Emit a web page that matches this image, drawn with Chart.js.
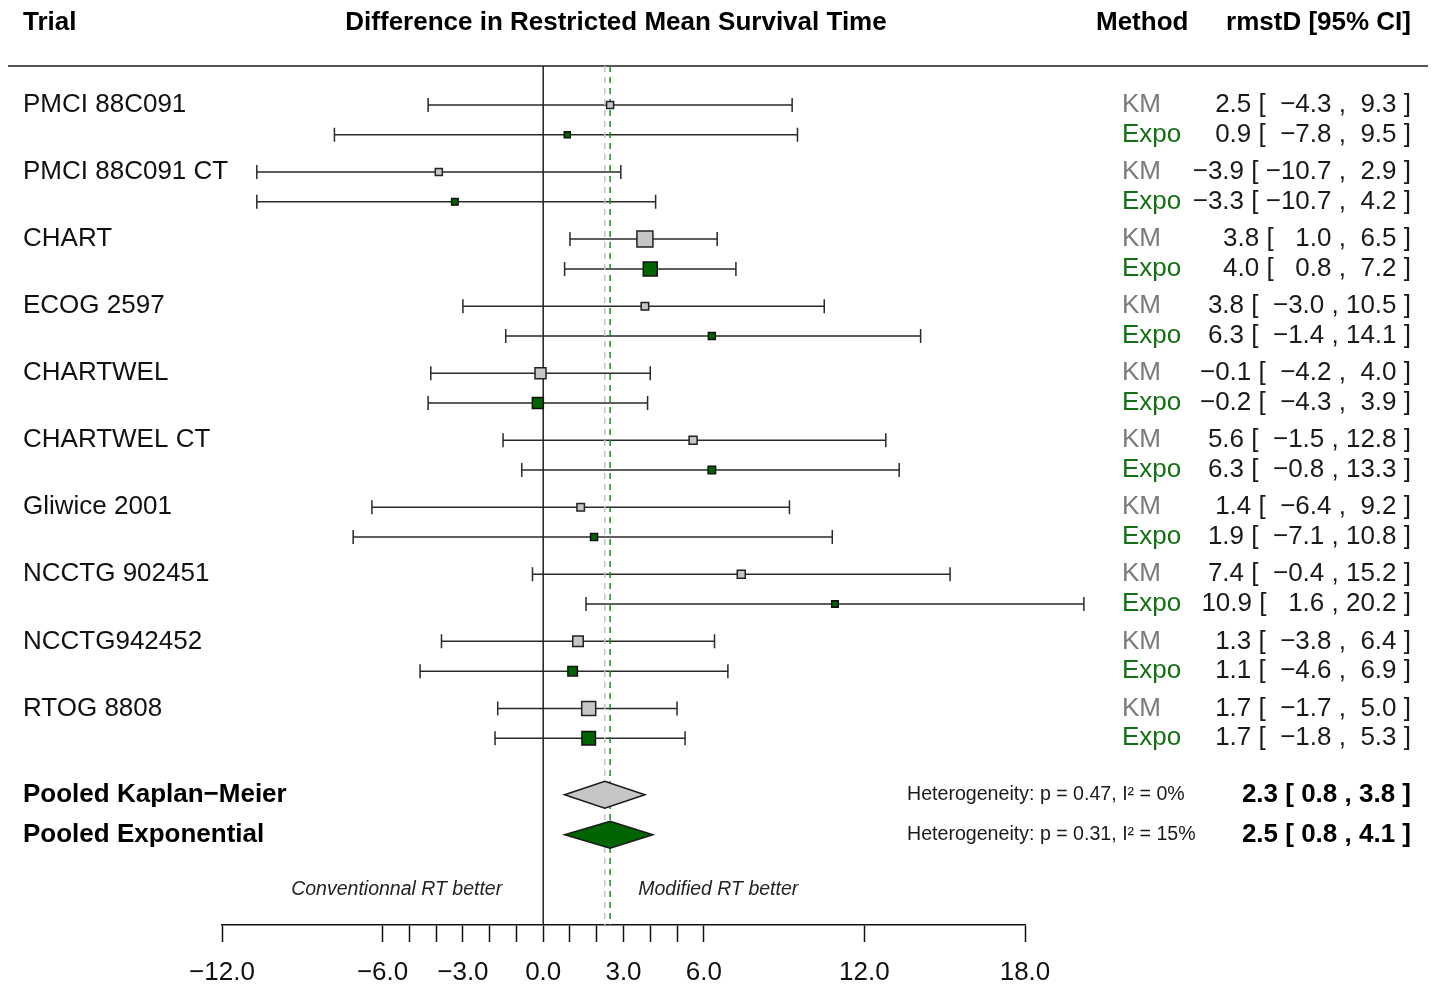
<!DOCTYPE html>
<html>
<head>
<meta charset="utf-8">
<script src="https://cdn.jsdelivr.net/npm/chart.js@4.4.1/dist/chart.umd.min.js"></script>
<style>
  html, body { margin: 0; padding: 0; background: #fff; }
</style>
</head>
<body>
<canvas id="forestChart" width="1440" height="987"></canvas>
<script>
const trials = ["PMCI 88C091", "PMCI 88C091 CT", "CHART", "ECOG 2597", "CHARTWEL",
  "CHARTWEL CT", "Gliwice 2001", "NCCTG 902451", "NCCTG942452", "RTOG 8808"];

const kmEst = [2.5, -3.9, 3.8, 3.8, -0.1, 5.6, 1.4, 7.4, 1.3, 1.7];
const kmLow = [-4.3, -10.7, 1.0, -3.0, -4.2, -1.5, -6.4, -0.4, -3.8, -1.7];
const kmHigh = [9.3, 2.9, 6.5, 10.5, 4.0, 12.8, 9.2, 15.2, 6.4, 5.0];
const kmWeight = [7, 7, 16, 7.5, 11, 8, 7.5, 8, 10.5, 14];

const expoEst = [0.9, -3.3, 4.0, 6.3, -0.2, 6.3, 1.9, 10.9, 1.1, 1.7];
const expoLow = [-7.8, -10.7, 0.8, -1.4, -4.3, -0.8, -7.1, 1.6, -4.6, -1.8];
const expoHigh = [9.5, 4.2, 7.2, 14.1, 3.9, 13.3, 10.8, 20.2, 6.9, 5.3];
const expoWeight = [6, 6.5, 14, 7, 11, 7.5, 7, 6.5, 9.5, 13.5];

const pooledLabels = ["Pooled Kaplan\u2212Meier", "Pooled Exponential"];
const pooledEst = [2.3, 2.5];
const pooledLow = [0.8, 0.8];
const pooledHigh = [3.8, 4.1];
const hetP = [0.47, 0.31];
const hetI2 = [0, 15];

const tickValues = [-12, -6, -5, -4, -3, -2, -1, 0, 1, 2, 3, 4, 5, 6, 12, 18];
const tickLabels = [-12, -6, -3, 0, 3, 6, 12, 18];

// layout (row units on the hidden y scale)
const FONT = '"Liberation Sans", Arial, Helvetica, sans-serif';
const Y_MAX = 28.83;
const kmRow = trials.map((t, i) => 1.31 + 2.25 * i);
const expoRow = kmRow.map((r) => r + 1);
const pooledRow = [24.46, 25.8];
const BOX = 1; // px of square side per weight unit

const KM_GREY = "#c6c6c6";
const DARK_GREEN = "#006400";

function fmt(v) {
  return v.toFixed(1).replace("-", "\u2212");
}

function ciLabel(est, lo, hi) {
  return `${fmt(est)} [ ${fmt(lo).padStart(5)} , ${fmt(hi).padStart(4)} ]`;
}

const forestDraw = {
  id: "forestDraw",
  beforeDatasetsDraw(chart) {
    const { ctx, scales: { x, y }, chartArea } = chart;
    ctx.save();
    ctx.strokeStyle = "#555";
    ctx.lineWidth = 2;
    ctx.beginPath();
    ctx.moveTo(8, chartArea.top);
    ctx.lineTo(1428, chartArea.top);
    ctx.stroke();

    ctx.strokeStyle = "#2a2a2a";
    ctx.lineWidth = 1.5;
    const bar = (lo, hi, row) => {
      const py = y.getPixelForValue(row);
      const x0 = x.getPixelForValue(lo);
      const x1 = x.getPixelForValue(hi);
      ctx.beginPath();
      ctx.moveTo(x0, py); ctx.lineTo(x1, py);
      ctx.moveTo(x0, py - 7); ctx.lineTo(x0, py + 7);
      ctx.moveTo(x1, py - 7); ctx.lineTo(x1, py + 7);
      ctx.stroke();
    };
    trials.forEach((t, i) => {
      bar(kmLow[i], kmHigh[i], kmRow[i]);
      bar(expoLow[i], expoHigh[i], expoRow[i]);
    });
    ctx.restore();
  },
  afterDatasetsDraw(chart) {
    const { ctx, scales: { x, y } } = chart;
    ctx.save();
    const fills = [KM_GREY, DARK_GREEN];
    pooledEst.forEach((est, i) => {
      const py = y.getPixelForValue(pooledRow[i]);
      const h = y.getPixelForValue(pooledRow[i] + 0.45) - py;
      ctx.beginPath();
      ctx.moveTo(x.getPixelForValue(pooledLow[i]), py);
      ctx.lineTo(x.getPixelForValue(est), py - h);
      ctx.lineTo(x.getPixelForValue(pooledHigh[i]), py);
      ctx.lineTo(x.getPixelForValue(est), py + h);
      ctx.closePath();
      ctx.fillStyle = fills[i];
      ctx.fill();
      ctx.strokeStyle = "#1a1a1a";
      ctx.lineWidth = 1.5;
      ctx.stroke();
    });
    ctx.restore();
  },
  afterDraw(chart) {
    const { ctx, scales: { x, y } } = chart;
    ctx.save();
    ctx.textBaseline = "middle";

    // header
    ctx.fillStyle = "#000";
    ctx.font = `bold 26px ${FONT}`;
    ctx.textAlign = "left";
    ctx.fillText("Trial", 23, 23);
    ctx.textAlign = "center";
    ctx.fillText("Difference in Restricted Mean Survival Time", 616, 23);
    ctx.textAlign = "left";
    ctx.fillText("Method", 1096, 23);
    ctx.textAlign = "right";
    ctx.fillText("rmstD [95% CI]", 1411, 23);

    ctx.font = `26px ${FONT}`;
    trials.forEach((t, i) => {
      const pk = y.getPixelForValue(kmRow[i]);
      const pe = y.getPixelForValue(expoRow[i]);
      ctx.fillStyle = "#111";
      ctx.textAlign = "left";
      ctx.fillText(t, 23, pk);
      ctx.fillStyle = "#7a7a7a";
      ctx.fillText("KM", 1122, pk);
      ctx.fillStyle = "#137013";
      ctx.fillText("Expo", 1122, pe);
      ctx.fillStyle = "#1a1a1a";
      ctx.textAlign = "right";
      ctx.fillText(ciLabel(kmEst[i], kmLow[i], kmHigh[i]), 1411, pk);
      ctx.fillText(ciLabel(expoEst[i], expoLow[i], expoHigh[i]), 1411, pe);
    });

    pooledEst.forEach((est, i) => {
      const py = y.getPixelForValue(pooledRow[i]);
      ctx.fillStyle = "#000";
      ctx.font = `bold 26px ${FONT}`;
      ctx.textAlign = "left";
      ctx.fillText(pooledLabels[i], 23, py);
      ctx.textAlign = "right";
      ctx.fillText(`${fmt(est)} [ ${fmt(pooledLow[i])} , ${fmt(pooledHigh[i])} ]`, 1411, py);
      ctx.font = `19.6px ${FONT}`;
      ctx.fillStyle = "#1a1a1a";
      ctx.textAlign = "left";
      ctx.fillText(`Heterogeneity: p = ${hetP[i].toFixed(2)}, I\u00b2 = ${hetI2[i]}%`, 907, py);
    });

    // direction notes
    const zero = x.getPixelForValue(0);
    ctx.font = `italic 19.5px ${FONT}`;
    ctx.fillStyle = "#222";
    ctx.textAlign = "right";
    ctx.fillText("Conventionnal RT better", zero - 41, 890);
    ctx.textAlign = "left";
    ctx.fillText("Modified RT better", zero + 95, 890);
    ctx.restore();
  },
};

const vline = (v, color, dash) => ({
  data: [{ x: v, y: 0 }, { x: v, y: Y_MAX }],
  showLine: true,
  borderColor: color,
  borderWidth: 1.5,
  borderDash: dash,
  pointRadius: 0,
});

new Chart(document.getElementById("forestChart"), {
  type: "scatter",
  data: {
    datasets: [
      {
        label: "KM",
        data: kmEst.map((v, i) => ({ x: v, y: kmRow[i] })),
        pointStyle: "rect",
        pointRadius: kmWeight.map((w) => (w * BOX) / Math.SQRT2),
        backgroundColor: KM_GREY,
        borderColor: "#222",
        borderWidth: 1.5,
      },
      {
        label: "Expo",
        data: expoEst.map((v, i) => ({ x: v, y: expoRow[i] })),
        pointStyle: "rect",
        pointRadius: expoWeight.map((w) => (w * BOX) / Math.SQRT2),
        backgroundColor: DARK_GREEN,
        borderColor: "#111",
        borderWidth: 1.5,
      },
      vline(0, "#222", []),
      vline(pooledEst[0], "#c4c4c4", [6, 5]),
      vline(pooledEst[1], "#1f8a1f", [6, 5]),
    ],
  },
  options: {
    responsive: false,
    animation: false,
    events: [],
    layout: {
      padding: { left: 222, right: 415, top: 66, bottom: 0 },
    },
    scales: {
      x: {
        type: "linear",
        min: -12,
        max: 18,
        afterBuildTicks: (s) => {
          s.ticks = tickValues.map((v) => ({ value: v }));
        },
        afterFit: (s) => {
          s.height = 62;
        },
        ticks: {
          autoSkip: false,
          maxRotation: 0,
          minRotation: 0,
          padding: 15,
          color: "#111",
          font: { size: 26, family: FONT },
          callback: (v) => (tickLabels.includes(v) ? fmt(v) : ""),
        },
        grid: {
          drawOnChartArea: false,
          drawTicks: true,
          tickLength: 17,
          tickColor: "#111",
          tickWidth: 1.5,
        },
        border: { display: true, color: "#111", width: 1.5 },
      },
      y: {
        type: "linear",
        min: 0,
        max: Y_MAX,
        reverse: true,
        display: false,
      },
    },
    plugins: {
      legend: { display: false },
      tooltip: { enabled: false },
    },
  },
  plugins: [forestDraw],
});
</script>
</body>
</html>
